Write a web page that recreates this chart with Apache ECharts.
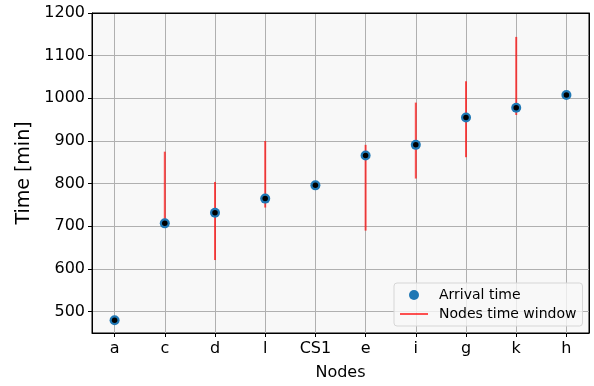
<!DOCTYPE html>
<html><head><meta charset="utf-8">
<script src="https://cdn.jsdelivr.net/npm/echarts@6/dist/echarts.min.js"></script>
<style>html,body{margin:0;padding:0;background:#fff}#c{width:594px;height:386px}</style>
</head><body><div id="c"></div>
<script>
const nodes = ['a','c','d','l','CS1','e','i','g','k','h'];
const arrival = [480, 707, 732, 765, 796, 866, 891, 955, 978, 1008];
const windowLow  = [null, 707, 621, 744, null, 690, 812, 862, 961, null];
const windowHigh = [null, 875, 804, 900, null, 891, 990, 1040, 1144, null];
const yTicks = [500, 600, 700, 800, 900, 1000, 1100, 1200];

const idx = nodes.map((_, i) => i);
const pts = arrival.map((v, i) => [i, v]);
const wins = [];
nodes.forEach((_, i) => { if (windowLow[i] != null) wins.push([i, windowLow[i], windowHigh[i]]); });

const font = 'DejaVu Sans';
const red = 'rgba(255,0,0,0.68)';
const frameAxis = {
  axisLine: {show: true, onZero: false, lineStyle: {color: '#000'}},
  axisTick: {show: false}, axisLabel: {show: false}, splitLine: {show: false}
};
const chart = echarts.init(document.getElementById('c'), null, {renderer: 'canvas'});
chart.setOption({
  animation: false,
  textStyle: {fontFamily: font},
  grid: {left: 92, right: 5, top: 13, bottom: 52, show: true, backgroundColor: '#f8f8f8', borderColor: '#000', borderWidth: 1, containLabel: false},
  xAxis: [{
    type: 'value', min: -0.45, max: 9.45,
    name: 'Nodes', nameLocation: 'middle', nameGap: 32,
    nameTextStyle: {fontSize: 16, color: '#000', fontFamily: font},
    axisLine: {show: true, onZero: false, lineStyle: {color: '#000'}},
    axisTick: {show: true, customValues: idx, length: 4, inside: false, lineStyle: {color: '#000'}},
    axisLabel: {customValues: idx, formatter: v => nodes[Math.round(v)], fontSize: 16, color: '#000', margin: 8, fontFamily: font},
    splitLine: {show: true, lineStyle: {color: '#b0b0b0', width: 1}}
  }, Object.assign({type: 'value', position: 'top', min: -0.45, max: 9.45}, frameAxis)],
  yAxis: [{
    type: 'value', min: 450, max: 1200,
    name: 'Time [min]', nameLocation: 'middle', nameGap: 57,
    nameTextStyle: {fontSize: 19, color: '#000', fontFamily: font},
    axisLine: {show: true, onZero: false, lineStyle: {color: '#000'}},
    axisTick: {show: true, customValues: yTicks, length: 4, lineStyle: {color: '#000'}},
    axisLabel: {customValues: yTicks, formatter: v => String(v), fontSize: 16, color: '#000', margin: 7, fontFamily: font},
    splitLine: {show: true, lineStyle: {color: '#b0b0b0', width: 1}}
  }, Object.assign({type: 'value', position: 'right', min: 450, max: 1200}, frameAxis)],
  legend: {
    orient: 'vertical', left: 394, top: 283,
    padding: [5, 6, 5, 6], itemGap: 5, itemWidth: 28, itemHeight: 10,
    backgroundColor: 'rgba(248,248,248,0.8)', borderColor: '#d6d6d6', borderWidth: 1, borderRadius: 3,
    textStyle: {fontSize: 14, color: '#000', fontFamily: font, padding: [0, 0, 0, 6]},
    data: [
      {name: 'Arrival time', icon: 'circle'},
      {name: 'Nodes time window', icon: 'path://M0 0 L28 0 L28 2 L0 2 Z', itemStyle: {color: red}}
    ]
  },
  series: [
    {
      name: 'Nodes time window', type: 'custom', data: wins, z: 2,
      itemStyle: {color: red},
      encode: {x: 0, y: [1, 2]},
      renderItem: (params, api) => {
        const p1 = api.coord([api.value(0), api.value(1)]);
        const p2 = api.coord([api.value(0), api.value(2)]);
        return {type: 'line', shape: {x1: p1[0], y1: p1[1], x2: p2[0], y2: p2[1]},
          style: {stroke: red, lineWidth: 2}};
      }
    },
    {
      name: 'Arrival time', type: 'scatter', data: pts, symbolSize: 10, z: 3,
      itemStyle: {color: '#1f77b4', opacity: 1}
    },
    {
      name: 'dots', type: 'scatter', data: pts, symbolSize: 5.5, z: 4,
      itemStyle: {color: '#000', opacity: 1}
    }
  ]
});
</script></body></html>
